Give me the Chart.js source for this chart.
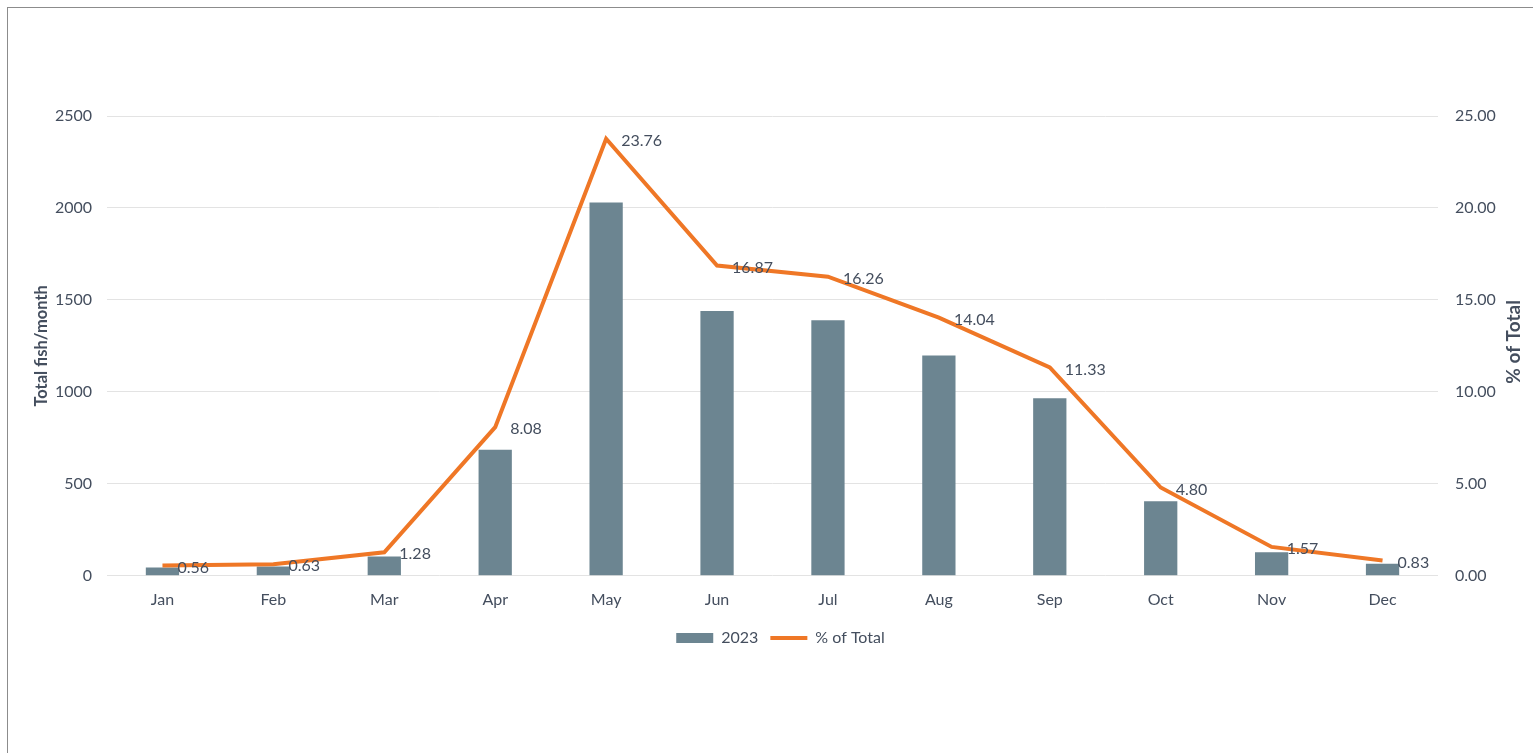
<!DOCTYPE html>
<html>
<head>
<meta charset="utf-8">
<script src="https://cdn.jsdelivr.net/npm/chart.js@4"></script>
<style>
  html, body { margin: 0; padding: 0; background: #fff; }
  body { width: 1533px; height: 753px; position: relative; overflow: hidden; }
  .frame {
    position: absolute; left: 7px; top: 7px; width: 1540px; height: 760px;
    border-top: 1px solid #8c8c8c; border-left: 1px solid #8c8c8c;
  }
  #chartBox { position: absolute; left: 0; top: 0; width: 1533px; height: 680px; }
</style>
</head>
<body>
<div class="frame"></div>
<div id="chartBox"><canvas id="fishChart" width="1533" height="680"></canvas></div>
<script>
const months = ['Jan', 'Feb', 'Mar', 'Apr', 'May', 'Jun', 'Jul', 'Aug', 'Sep', 'Oct', 'Nov', 'Dec'];
const fishCounts = [45, 50, 105, 685, 2030, 1440, 1390, 1198, 965, 405, 128, 65];
const pctOfTotal = [0.56, 0.63, 1.28, 8.08, 23.76, 16.87, 16.26, 14.04, 11.33, 4.80, 1.57, 0.83];
const countTicks = [0, 500, 1000, 1500, 2000, 2500];
const pctTicks = [0, 5, 10, 15, 20, 25];

const textColor = '#444e5e';
const barColor = '#6c8591';
const lineColor = '#ef7726';
const fontFamily = 'Lato, "Open Sans", sans-serif';

// value labels to the right of each line point
const pointLabels = {
    id: 'pointLabels',
    afterDatasetsDraw(chart) {
        const ctx = chart.ctx;
        const meta = chart.getDatasetMeta(1);
        ctx.save();
        ctx.font = '16px ' + fontFamily;
        ctx.fillStyle = textColor;
        ctx.textAlign = 'left';
        ctx.textBaseline = 'middle';
        meta.data.forEach((pt, i) => {
            ctx.fillText(pctOfTotal[i].toFixed(2), pt.x + 15, pt.y + 2);
        });
        ctx.restore();
    }
};

// right axis title reads bottom-to-top, so draw it by hand
const rightTitle = {
    id: 'rightTitle',
    afterDraw(chart) {
        const ctx = chart.ctx;
        const area = chart.chartArea;
        ctx.save();
        ctx.translate(1514, (area.top + area.bottom) / 2 - 4);
        ctx.rotate(-Math.PI / 2);
        ctx.font = 'bold 19px ' + fontFamily;
        ctx.fillStyle = textColor;
        ctx.textAlign = 'center';
        ctx.textBaseline = 'middle';
        ctx.fillText('% of Total', 0, 0);
        ctx.restore();
    }
};

const ctx = document.getElementById('fishChart').getContext('2d');
const chart = new Chart(ctx, {
    type: 'bar',
    data: {
        labels: months,
        datasets: [{
            type: 'bar',
            label: '2023',
            data: fishCounts,
            backgroundColor: barColor,
            yAxisID: 'y',
            categoryPercentage: 1,
            barPercentage: 0.3,
            order: 1
        }, {
            type: 'line',
            label: '% of Total',
            data: pctOfTotal,
            borderColor: lineColor,
            backgroundColor: lineColor,
            borderWidth: 4,
            pointRadius: 0,
            tension: 0,
            yAxisID: 'y1',
            order: 0
        }]
    },
    options: {
        responsive: false,
        animation: false,
        layout: {
            padding: { left: 28, right: 0, top: 116, bottom: 24 }
        },
        scales: {
            x: {
                afterFit: function(scale) { scale.height = scale.height + 3; },
                grid: { display: false },
                border: { display: false },
                ticks: {
                    color: textColor,
                    font: { family: fontFamily, size: 16 },
                    padding: 6
                }
            },
            y: {
                position: 'left',
                min: 0,
                max: 2500,
                afterFit: function(scale) { scale.width = 79; },
                afterBuildTicks: function(scale) {
                    scale.ticks = countTicks.map(v => ({ value: v }));
                },
                grid: { color: '#e3e3e3', lineWidth: 1, drawTicks: false },
                border: { display: false },
                ticks: {
                    color: textColor,
                    font: { family: fontFamily, size: 16 },
                    padding: 15,
                    callback: function(value) { return String(value); }
                },
                title: {
                    display: true,
                    text: 'Total fish/month',
                    color: textColor,
                    font: { family: fontFamily, size: 16.5, weight: 'bold' },
                    padding: { top: 4, bottom: 0 }
                }
            },
            y1: {
                position: 'right',
                min: 0,
                max: 25,
                afterFit: function(scale) { scale.width = 95; },
                afterBuildTicks: function(scale) {
                    scale.ticks = pctTicks.map(v => ({ value: v }));
                },
                grid: { display: false, drawTicks: false },
                border: { display: false },
                ticks: {
                    color: textColor,
                    font: { family: fontFamily, size: 16 },
                    padding: 17,
                    callback: function(value) { return Number(value).toFixed(2); }
                }
            }
        },
        plugins: {
            legend: {
                position: 'bottom',
                labels: {
                    color: textColor,
                    font: { family: fontFamily, size: 16 },
                    usePointStyle: true,
                    pointStyleWidth: 37,
                    boxHeight: 10,
                    padding: 12,
                    generateLabels: function() {
                        return [{
                            text: '2023',
                            fillStyle: barColor,
                            strokeStyle: barColor,
                            lineWidth: 0,
                            pointStyle: 'rect',
                            fontColor: textColor,
                            datasetIndex: 0
                        }, {
                            text: '% of Total',
                            fillStyle: lineColor,
                            strokeStyle: lineColor,
                            lineWidth: 4,
                            pointStyle: 'line',
                            fontColor: textColor,
                            datasetIndex: 1
                        }];
                    }
                }
            },
            tooltip: { enabled: false }
        }
    },
    plugins: [pointLabels, rightTitle]
});
</script>
</body>
</html>
